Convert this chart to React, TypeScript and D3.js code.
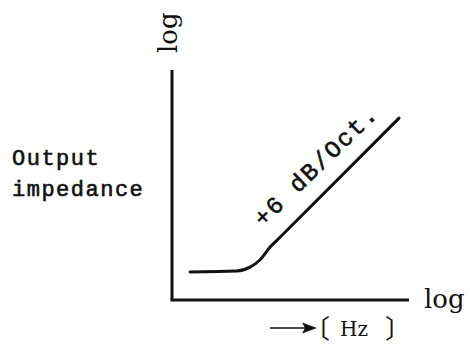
import React from "react";
import * as d3 from "d3";

// Conceptual log-log curve: output impedance vs frequency
const freqLog = [0.76, 2.74, 3.29, 3.71, 4.14, 4.6, 9.0, 9.58];
const impedanceLog = [1.22, 1.26, 1.43, 1.74, 2.3, 2.77, 7.31, 7.91];
const yLabelLines = ["Output", "impedance"];
const axisLabelX = "log";
const axisLabelY = "log";
const slopeLabel = "+6 dB/Oct.";
const unitLabel = "Hz";

const W = 470;
const H = 349;

export default function App() {
  const x = d3.scaleLinear().domain([0, 10]).range([172, 409]);
  const y = d3.scaleLinear().domain([0, 10]).range([300, 70]);
  const pts: [number, number][] = freqLog.map((f, i) => [f, impedanceLog[i]]);
  const line = d3
    .line<[number, number]>()
    .x((d) => x(d[0]))
    .y((d) => y(d[1]))
    .curve(d3.curveMonotoneX);

  const lx = x(6.3);
  const ly = y(5.6);

  const mono = "'Liberation Mono', 'Courier New', monospace";
  const serif = "'DejaVu Serif', serif";
  const cjk = "'Noto Sans CJK JP', sans-serif";

  return (
    <svg
      width={W}
      height={H}
      style={{ position: "absolute", left: 0, top: 0, background: "#fff" }}
    >
      {/* axes */}
      <line x1={x(0)} y1={y(0)} x2={x(0)} y2={y(10)} stroke="#111" strokeWidth={3} />
      <line x1={x(0) - 1.5} y1={y(0)} x2={x(10)} y2={y(0)} stroke="#111" strokeWidth={3} />
      {/* curve */}
      <path d={line(pts) || ""} fill="none" stroke="#111" strokeWidth={3} strokeLinecap="round" />
      {/* slope label */}
      <text
        x={lx}
        y={ly}
        transform={`rotate(-44 ${lx} ${ly})`}
        textAnchor="middle"
        fontFamily={mono}
        fontSize={24}
        letterSpacing={1.8}
        fill="#111"
        stroke="#111"
        strokeWidth={0.6}
      >
        {slopeLabel}
      </text>
      {/* y label */}
      {yLabelLines.map((t, i) => (
        <text
          key={t}
          x={12}
          y={165 + i * 31}
          fontFamily={mono}
          fontSize={22}
          letterSpacing={1.5}
          fill="#111"
          stroke="#111"
          strokeWidth={0.6}
        >
          {t}
        </text>
      ))}
      {/* top log */}
      <text
        x={177}
        y={53}
        transform={`rotate(-90 177 53)`}
        fontFamily={serif}
        fontSize={26}
        fill="#111"
      >
        {axisLabelY}
      </text>
      {/* right log */}
      <text x={424} y={308} fontFamily={serif} fontSize={26} fill="#111">
        {axisLabelX}
      </text>
      {/* arrow */}
      <line x1={270} y1={328} x2={306} y2={328} stroke="#111" strokeWidth={1.6} />
      <path d="M302,322.5 L317,328 L302,333.5 L305,328 Z" fill="#111" />
      {/* [Hz] */}
      <text x={330} y={338} textAnchor="end" fontFamily={cjk} fontSize={26} fill="#111">
        〔
      </text>
      <text x={340} y={336} fontFamily={serif} fontSize={20} fill="#111">
        {unitLabel}
      </text>
      <text x={385} y={338} fontFamily={cjk} fontSize={26} fill="#111">
        〕
      </text>
    </svg>
  );
}
